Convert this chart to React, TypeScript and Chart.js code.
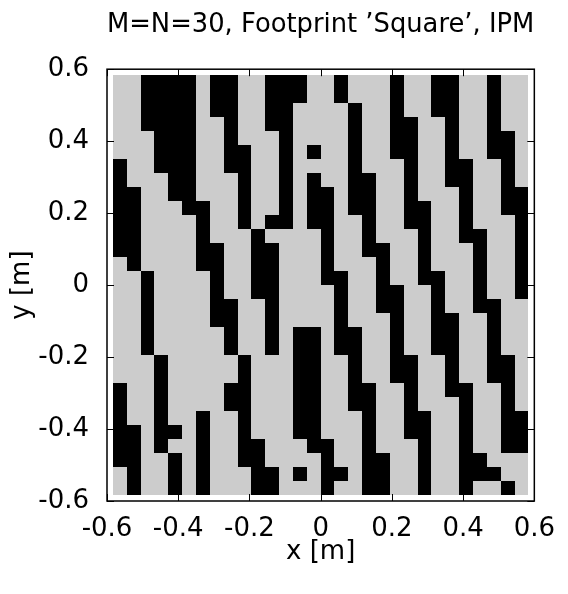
import React, { useEffect, useRef } from "react";
import { Chart, registerables } from "chart.js";

Chart.register(...registerables);

const TITLE = "M=N=30, Footprint \u2019Square\u2019, IPM";
const X_LABEL = "x [m]";
const Y_LABEL = "y [m]";
const TICK_VALUES = [-0.6, -0.4, -0.2, 0, 0.2, 0.4, 0.6];
const TICK_LABELS = ["-0.6", "-0.4", "-0.2", "0", "0.2", "0.4", "0.6"];

// element centre positions (m), same for x and y
const ELEMENT_POS = [
  -0.5639, -0.525, -0.4861, -0.4472, -0.4083, -0.3694, -0.3306, -0.2917, -0.2528, -0.2139,
  -0.175, -0.1361, -0.0972, -0.0583, -0.0194, 0.0194, 0.0583, 0.0972, 0.1361, 0.175,
  0.2139, 0.2528, 0.2917, 0.3306, 0.3694, 0.4083, 0.4472, 0.4861, 0.525, 0.5639,
];
const CELL = 0.03889;

// element states, top row (y = +0.564) first; 1 = black (on), 0 = grey (off)
const GRID_ROWS = [
  "001111011001110010001001100100",
  "001111011001110010001001100100",
  "001111011001100001001001100100",
  "001111001001100001001100100100",
  "000111001000100001001100100110",
  "000111001100101001001100100110",
  "100111001100100001000100110010",
  "100011000100101001100100110010",
  "110011000100101101100100010011",
  "110001100100101101100110010011",
  "110000100101101100100110010001",
  "110000100010000100100010011001",
  "110000110011000100110010001001",
  "010000110011000100010010001001",
  "001000010011000110010011001001",
  "001000010011000010011001001001",
  "001000011001000010011001001100",
  "001000011001000010001001100100",
  "001000001001011011001001100100",
  "001000001001011011001001100100",
  "000100000100011001001100100110",
  "000100000100011001001100100110",
  "100100001100011001100100110010",
  "100100001100011001100100010010",
  "100100100100011000100110010011",
  "110110100100011000100110010011",
  "110100100110001100100010010011",
  "110010100110000100110010011000",
  "010010100011010110110010011100",
  "010010100011000100110010010010",
];

const OFF_COLOR = "#cccccc";
const ON_COLOR = "#000000";
const FONT = "'DejaVu Sans', sans-serif";

const cellPlugin = {
  id: "cells",
  beforeDatasetsDraw(chart: any) {
    const { ctx } = chart;
    const xs = chart.scales.x;
    const ys = chart.scales.y;
    ctx.save();
    chart.data.datasets.forEach((ds: any) => {
      ctx.fillStyle = ds.backgroundColor;
      ds.data.forEach((p: any) => {
        const x0 = Math.round(xs.getPixelForValue(p.x - CELL / 2));
        const x1 = Math.round(xs.getPixelForValue(p.x + CELL / 2));
        const y0 = Math.round(ys.getPixelForValue(p.y + CELL / 2));
        const y1 = Math.round(ys.getPixelForValue(p.y - CELL / 2));
        ctx.fillRect(x0, y0, x1 - x0, y1 - y0);
      });
    });
    ctx.restore();
  },
};

const framePlugin = {
  id: "frame",
  afterDatasetsDraw(chart: any) {
    const { ctx, chartArea } = chart;
    const { left, right, top, bottom } = chartArea;
    const xs = chart.scales.x;
    const ys = chart.scales.y;
    const tl = 7;
    ctx.save();
    ctx.strokeStyle = "#000";
    ctx.lineWidth = 1;
    ctx.beginPath();
    TICK_VALUES.forEach((v) => {
      const px = Math.round(xs.getPixelForValue(v)) + 0.5;
      ctx.moveTo(px, bottom);
      ctx.lineTo(px, bottom - tl);
      ctx.moveTo(px, top);
      ctx.lineTo(px, top + tl);
      const py = Math.round(ys.getPixelForValue(v)) + 0.5;
      ctx.moveTo(left, py);
      ctx.lineTo(left + tl, py);
      ctx.moveTo(right, py);
      ctx.lineTo(right - tl, py);
    });
    ctx.stroke();
    ctx.lineWidth = 1.5;
    ctx.strokeRect(left, top, right - left, bottom - top);
    ctx.restore();
  },
};

export default function App() {
  const ref = useRef<HTMLCanvasElement | null>(null);

  useEffect(() => {
    if (!ref.current) return;
    const offCells: { x: number; y: number }[] = [];
    const onCells: { x: number; y: number }[] = [];
    GRID_ROWS.forEach((row, r) => {
      const y = ELEMENT_POS[ELEMENT_POS.length - 1 - r];
      row.split("").forEach((s, c) => {
        (s === "1" ? onCells : offCells).push({ x: ELEMENT_POS[c], y });
      });
    });

    const tickFont = { family: FONT, size: 26 };
    const chart = new Chart(ref.current, {
      type: "scatter",
      data: {
        datasets: [
          { label: "off", data: offCells, backgroundColor: OFF_COLOR, pointRadius: 0 },
          { label: "on", data: onCells, backgroundColor: ON_COLOR, pointRadius: 0 },
        ],
      },
      options: {
        responsive: false,
        animation: false,
        devicePixelRatio: 1,
        events: [],
        layout: { padding: { left: 0, right: 29, top: 0, bottom: 0 } },
        plugins: {
          legend: { display: false },
          tooltip: { enabled: false },
          title: {
            display: true,
            fullSize: false,
            text: TITLE,
            color: "#000",
            font: { family: FONT, size: 26, weight: "normal" },
            padding: { top: 10, bottom: 28 },
          },
        },
        scales: {
          x: {
            type: "linear",
            min: -0.6,
            max: 0.6,
            afterBuildTicks: (scale: any) => {
              scale.ticks = TICK_VALUES.map((v) => ({ value: v }));
            },
            afterFit: (scale: any) => {
              scale.height = 93;
            },
            grid: { display: false, drawTicks: false, tickLength: 0 },
            border: { display: false },
            ticks: {
              color: "#000",
              font: tickFont,
              padding: 13,
              maxRotation: 0,
              autoSkip: false,
              callback: (_v: any, i: number) => TICK_LABELS[i],
            },
            title: {
              display: true,
              text: X_LABEL,
              color: "#000",
              font: tickFont,
              padding: { top: 26, bottom: 26 },
            },
          },
          y: {
            type: "linear",
            min: -0.6,
            max: 0.6,
            afterBuildTicks: (scale: any) => {
              scale.ticks = TICK_VALUES.map((v) => ({ value: v }));
            },
            afterFit: (scale: any) => {
              scale.width = 107;
            },
            grid: { display: false, drawTicks: false, tickLength: 0 },
            border: { display: false },
            ticks: {
              color: "#000",
              font: tickFont,
              padding: 18,
              autoSkip: false,
              callback: (_v: any, i: number) => TICK_LABELS[i],
            },
            title: {
              display: true,
              text: Y_LABEL,
              color: "#000",
              font: tickFont,
              padding: { top: 7, bottom: 7 },
            },
          },
        },
      },
      plugins: [cellPlugin, framePlugin],
    } as any);
    return () => chart.destroy();
  }, []);

  return (
    <div style={{ position: "absolute", left: 0, top: 0, width: 568, height: 594, background: "#fff" }}>
      <canvas ref={ref} width={568} height={594} />
    </div>
  );
}
